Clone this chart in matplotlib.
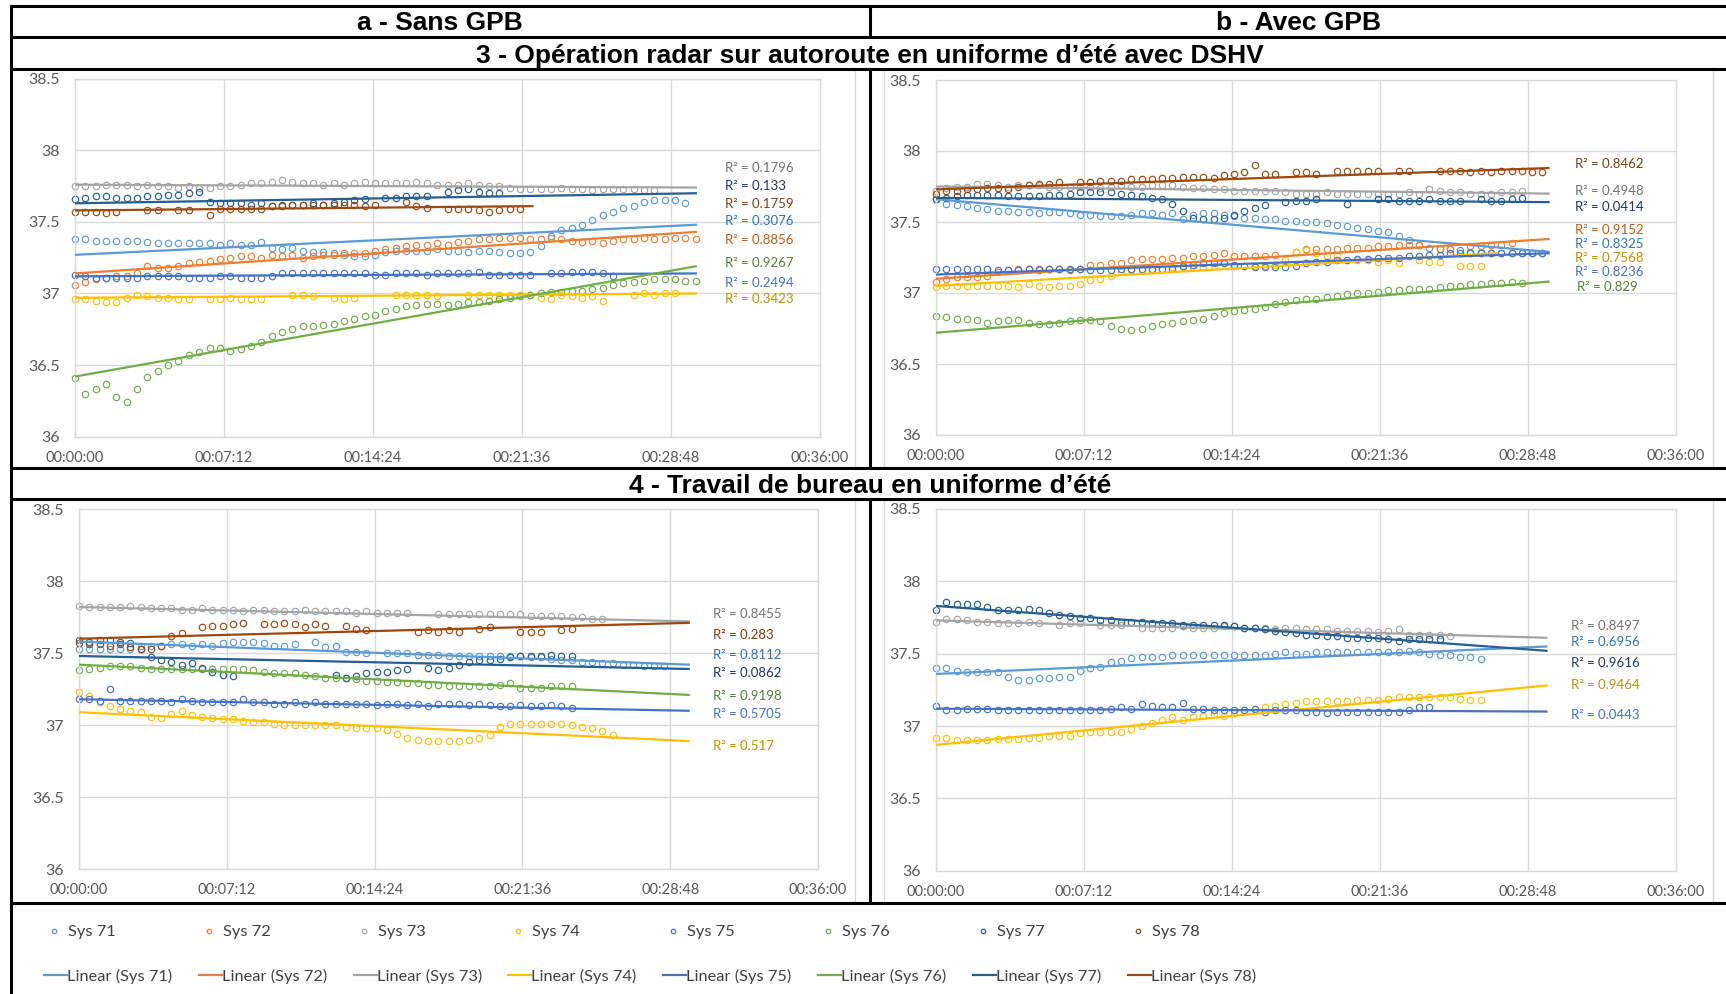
import numpy as np
import matplotlib
matplotlib.use("Agg")
import matplotlib.pyplot as plt
from matplotlib.lines import Line2D

plt.rcParams['font.family'] = ['Lato', 'DejaVu Sans']

N = None
STEP_MIN = 0.5  # sampling step of the recorded values, minutes

# ---------------- data (°C, one value every 0.5 min) ----------------
# Panel 3a - Sans GPB
a71 = [37.38,37.38,37.37,37.37,37.37,37.37,37.37,37.36,37.35,37.35,37.35,37.35,37.35,37.35,37.34,37.35,37.34,37.34,37.36,37.32,
       37.31,37.32,37.30,37.29,37.29,37.28,37.27,37.26,37.26,37.27,37.29,37.30,37.30,37.30,37.30,37.31,37.30,37.30,37.29,37.30,
       37.30,37.29,37.28,37.28,37.29,37.33,37.40,37.44,37.46,37.48,37.51,37.55,37.57,37.60,37.61,37.64,37.65,37.65,37.65,37.63]
a72 = [37.06,37.08,37.10,37.11,37.12,37.12,37.14,37.19,37.18,37.18,37.19,37.21,37.22,37.23,37.24,37.25,37.26,37.26,37.25,37.27,
       37.26,37.27,37.25,37.26,37.27,37.27,37.28,37.28,37.28,37.30,37.31,37.32,37.33,37.34,37.34,37.35,37.34,37.36,37.37,37.38,
       37.38,37.39,37.39,37.39,37.38,37.38,37.39,37.38,37.37,37.36,37.37,37.35,37.37,37.38,37.38,37.39,37.38,37.38,37.39,37.39,37.38]
a73 = [37.75,37.75,37.75,37.76,37.76,37.76,37.75,37.76,37.75,37.75,37.74,37.75,37.74,37.74,37.75,37.75,37.76,37.77,37.77,37.78,
       37.79,37.78,37.77,37.77,37.76,37.77,37.76,37.77,37.78,37.77,37.77,37.77,37.77,37.78,37.77,37.76,37.76,37.76,37.77,37.76,
       37.75,37.75,37.74,37.73,37.73,37.73,37.73,37.74,37.73,37.73,37.72,37.73,37.73,37.73,37.73,37.72,37.72]
a74 = [36.96,36.96,36.95,36.94,36.94,36.97,36.99,36.98,36.97,36.97,36.96,36.96,N,36.96,36.96,36.97,36.96,36.96,36.96,N,
       N,36.99,36.99,36.98,N,36.97,36.96,36.97,N,N,N,36.99,36.99,36.99,36.99,36.98,N,N,36.99,36.99,
       36.99,36.99,36.99,36.99,36.99,36.97,36.96,36.99,36.98,36.97,36.98,36.95,N,N,36.99,37.00,36.99,37.00,37.00]
a75 = [37.13,37.12,37.11,37.11,37.11,37.11,37.11,37.12,37.12,37.12,37.12,37.11,37.11,37.11,37.12,37.12,37.11,37.11,37.11,37.12,
       37.14,37.14,37.14,37.14,37.14,37.14,37.14,37.14,37.14,37.13,37.13,37.14,37.14,37.14,37.13,37.14,37.14,37.14,37.14,37.15,
       37.13,37.13,37.13,37.13,37.13,N,37.14,37.14,37.15,37.15,37.15,37.14,37.12]
a76 = [36.41,36.30,36.33,36.37,36.28,36.24,36.33,36.42,36.46,36.50,36.53,36.57,36.59,36.62,36.62,36.60,36.61,36.63,36.66,36.70,
       36.73,36.75,36.77,36.77,36.78,36.79,36.81,36.82,36.84,36.85,36.88,36.89,36.91,36.92,36.93,36.93,36.92,36.93,36.94,36.94,
       36.95,36.96,36.97,36.98,36.99,37.00,37.01,37.01,37.02,37.02,37.03,37.04,37.06,37.07,37.08,37.09,37.10,37.10,37.10,37.09,37.09]
a77 = [37.66,37.67,37.68,37.68,37.67,37.67,37.67,37.68,37.68,37.69,37.69,37.70,37.71,37.64,37.63,37.63,37.63,37.62,37.63,37.61,
       37.62,37.62,37.62,37.63,37.62,37.63,37.64,37.65,37.66,N,37.67,37.67,37.68,37.68,37.68,N,37.71,37.72,37.73,37.71,37.70,37.70]
a78 = [37.57,37.57,37.57,37.56,37.57,N,N,37.58,37.58,N,37.58,37.58,N,37.55,37.59,37.59,37.59,37.59,37.59,37.61,
       37.61,37.62,37.62,37.62,37.62,37.62,37.62,37.62,37.61,37.62,N,N,37.64,37.61,37.60,N,37.59,37.59,37.59,37.58,
       37.57,37.58,37.59,37.59]

# Panel 3b - Avec GPB
b71 = [37.66,37.63,37.62,37.61,37.60,37.59,37.58,37.58,37.57,37.57,37.56,37.57,37.57,37.56,37.55,37.55,37.54,37.54,37.54,37.55,
       37.56,37.56,37.55,37.56,37.52,37.55,37.56,37.56,37.55,37.54,37.53,37.53,37.52,37.52,37.51,37.51,37.50,37.50,37.49,37.48,
       37.47,37.46,37.45,37.44,37.43,37.40,37.37,37.34,37.32,37.31,37.31,37.30,37.29,37.29,37.28,37.28,37.28,37.28,37.28,37.28]
b72 = [37.08,37.10,37.11,37.11,37.11,37.12,37.15,37.16,37.17,37.17,37.16,37.17,37.17,37.16,37.17,37.20,37.20,37.21,37.21,37.23,
       37.24,37.24,37.24,37.25,37.25,37.26,37.26,37.27,37.28,37.26,37.26,37.26,37.26,37.27,N,37.29,37.31,37.31,37.31,37.31,
       37.32,37.32,37.32,37.33,37.33,37.34,37.34,37.34,N,37.31,37.31,N,37.33,37.33,37.34,37.34,37.35]
b73 = [37.72,37.74,37.75,37.75,37.77,37.77,37.76,37.75,37.76,37.76,37.76,37.75,37.75,37.75,37.75,37.75,37.74,37.75,37.76,37.75,
       37.75,37.76,37.76,37.76,37.75,37.74,37.74,37.73,37.73,37.72,37.72,37.72,37.72,37.72,37.71,37.70,37.70,37.70,37.71,37.70,
       37.70,37.70,37.70,37.70,37.70,37.70,37.71,37.70,37.73,37.72,37.71,37.71,37.70,37.70,37.70,37.71,37.71,37.72]
b74 = [37.04,37.05,37.05,37.05,37.05,37.05,37.05,37.05,37.04,37.06,37.05,37.04,37.05,37.05,37.06,37.09,37.10,37.12,37.15,37.16,
       37.16,37.16,37.17,37.18,37.18,37.18,37.18,37.19,37.21,37.19,37.19,37.19,37.19,37.20,37.23,37.29,37.30,37.28,37.26,37.27,
       N,37.23,37.23,37.22,37.23,37.21,N,37.23,37.22,37.22,N,37.19,37.19,37.19]
b75 = [37.17,37.17,37.17,37.17,37.17,37.17,37.16,37.16,37.16,37.17,37.17,37.17,37.17,37.17,37.17,37.16,37.16,37.16,37.17,37.17,
       37.17,37.17,37.17,37.17,37.19,37.20,37.21,37.21,37.21,37.20,37.19,37.18,37.18,37.18,37.18,37.19,37.21,37.22,37.22,37.23,
       37.23,37.24,37.24,37.25,37.25,37.25,37.26,37.26,37.27,37.27,37.28,37.28,37.28,37.28,37.28,37.28,37.28,37.28,37.28,37.28]
b76 = [36.84,36.83,36.82,36.82,36.81,36.79,36.80,36.81,36.81,36.79,36.78,36.78,36.79,36.80,36.81,36.81,36.80,36.77,36.75,36.74,
       36.75,36.77,36.78,36.79,36.80,36.81,36.82,36.84,36.86,36.87,36.88,36.89,36.90,36.92,36.94,36.95,36.96,36.96,36.97,36.98,
       36.99,37.00,37.00,37.01,37.02,37.02,37.03,37.03,37.03,37.04,37.05,37.05,37.06,37.06,37.07,37.07,37.08,37.07]
b77 = [37.66,37.67,37.68,37.69,37.69,37.69,37.69,37.68,37.68,37.68,37.68,37.69,37.69,37.70,37.71,37.71,37.71,37.71,37.70,37.69,
       37.68,37.67,37.66,37.63,37.58,37.53,37.52,37.52,37.53,37.55,37.58,37.60,37.62,N,37.64,37.65,37.65,37.66,N,N,
       37.63,N,N,37.66,37.66,37.65,37.65,37.65,37.66,37.65,37.65,37.65,N,37.66,37.65,37.65,37.66,37.67]
b78 = [37.70,37.72,37.72,37.73,37.73,37.74,37.74,37.73,37.75,37.76,37.77,37.77,37.78,N,37.78,37.78,37.79,37.79,37.79,37.80,
       37.80,37.80,37.81,37.81,37.82,37.82,37.82,37.81,37.83,37.84,37.85,37.90,37.84,37.84,N,37.85,37.85,37.84,N,37.86,
       37.86,37.86,37.86,37.86,N,37.86,37.86,N,N,37.86,37.86,37.86,37.85,37.86,37.85,37.86,37.86,37.86,37.85,37.85]

# Panel 4a - Sans GPB
c71 = [37.53,37.53,37.53,37.53,37.53,37.53,37.55,37.55,37.55,37.56,37.56,37.55,37.56,37.55,37.57,37.58,37.58,37.58,37.57,37.55,
       37.55,37.56,N,37.58,37.54,37.55,37.51,37.51,37.50,N,37.50,37.50,37.50,37.49,37.49,37.49,37.48,37.48,37.48,37.48,
       37.48,37.48,37.48,37.48,37.47,37.47,37.46,37.45,37.45,37.44,37.44,37.43,37.43,37.42,37.42,37.41,37.41,37.41]
c73 = [37.83,37.82,37.82,37.82,37.82,37.83,37.82,37.81,37.81,37.81,37.80,37.80,37.81,37.80,37.80,37.80,37.79,37.80,37.80,37.79,
       37.79,37.79,37.80,37.79,37.79,37.79,37.79,37.78,37.79,37.78,37.78,37.78,37.78,N,N,37.77,37.77,37.77,37.77,37.77,
       37.77,37.77,37.77,37.77,37.76,37.76,37.76,37.76,37.75,37.75,37.74,37.74]
c74 = [37.23,37.20,37.16,37.13,37.11,37.10,37.09,37.06,37.05,37.08,37.10,37.07,37.06,37.05,37.04,37.04,37.03,37.02,37.02,37.01,
       37.00,37.00,37.00,37.00,37.00,37.00,36.99,36.98,36.98,36.98,36.97,36.94,36.91,36.90,36.89,36.89,36.89,36.89,36.90,36.91,
       36.93,36.99,37.01,37.01,37.01,37.01,37.01,37.01,37.00,36.99,36.98,36.96,36.93]
c75 = [37.18,37.18,37.17,37.25,37.17,37.17,37.17,37.17,37.17,37.16,37.18,37.17,37.16,37.16,37.16,37.16,37.18,37.16,37.16,37.15,
       37.15,37.16,37.15,37.16,37.15,37.15,37.15,37.15,37.15,37.14,37.15,37.15,37.14,37.15,37.13,37.15,37.15,37.15,37.14,37.15,
       37.14,37.13,37.13,37.14,37.13,37.13,37.14,37.13,37.12]
c76 = [37.38,37.39,37.40,37.41,37.41,37.41,37.40,37.39,37.39,37.39,37.39,37.39,37.39,37.39,37.39,37.39,37.39,37.38,37.37,37.36,
       37.36,37.36,37.35,37.34,37.33,37.33,37.33,37.32,37.31,37.31,37.30,37.30,37.29,37.29,37.28,37.28,37.27,37.27,37.27,37.27,
       37.27,37.28,37.29,37.26,37.26,37.26,37.27,37.27,37.27]
c77 = [37.59,37.58,37.59,37.59,37.58,37.57,37.53,37.47,37.45,37.44,37.42,37.43,37.40,37.37,37.35,37.34,N,N,N,N,
       N,N,N,N,N,37.35,37.33,37.34,37.36,37.37,37.37,37.38,37.39,N,37.40,37.38,37.40,37.42,37.44,37.45,
       37.45,37.46,37.47,37.48,37.48,37.48,37.49,37.48,37.48]
c78 = [37.57,37.56,37.56,37.55,37.56,37.54,37.53,37.53,37.55,37.62,37.64,N,37.68,37.69,37.69,37.70,37.71,N,37.70,37.70,
       37.71,37.70,37.68,37.70,37.69,N,37.69,37.67,37.66,N,N,N,N,37.65,37.66,37.65,37.66,37.65,N,37.67,
       37.68,N,N,37.65,37.65,37.65,N,37.66,37.67]

# Panel 4b - Avec GPB
d71 = [37.40,37.40,37.38,37.37,37.37,37.37,37.37,37.34,37.32,37.32,37.33,37.33,37.34,37.34,37.38,37.40,37.41,37.44,37.45,37.47,
       37.48,37.48,37.48,37.49,37.49,37.49,37.49,37.49,37.49,37.49,37.49,37.49,37.49,37.50,37.51,37.50,37.50,37.51,37.51,37.51,
       37.51,37.51,37.51,37.51,37.51,37.51,37.52,37.51,37.50,37.49,37.49,37.48,37.48,37.46]
d73 = [37.72,37.74,37.74,37.73,37.72,37.72,37.71,37.71,37.71,37.72,37.71,N,37.70,37.71,37.71,N,37.70,37.70,37.70,N,
       37.68,37.68,37.68,37.68,37.69,37.68,37.68,37.68,37.69,37.69,37.68,37.68,37.68,37.67,37.68,37.68,37.67,37.67,37.67,37.66,
       37.66,37.66,37.66,37.65,37.66,37.67,37.63,37.63,37.63,37.63,37.62]
d74 = [36.92,36.92,36.90,36.90,36.90,36.90,36.91,36.91,36.91,36.92,36.92,36.93,36.93,36.93,36.95,36.96,36.96,36.96,36.96,36.98,
       37.00,37.02,37.04,37.06,37.04,37.06,37.07,37.08,37.07,37.09,37.11,37.12,37.13,37.14,37.15,37.16,37.17,37.17,37.17,37.17,
       37.17,37.18,37.18,37.18,37.19,37.20,37.20,37.20,37.20,37.20,37.20,37.19,37.18,37.18]
d75 = [37.14,37.11,37.11,37.12,37.12,37.12,37.11,37.11,37.11,37.11,37.11,37.11,37.11,37.11,37.11,37.11,37.11,37.12,37.13,37.12,
       37.15,37.14,37.13,37.13,37.16,37.12,37.12,37.11,37.11,37.11,37.11,37.12,37.10,37.11,37.11,37.11,37.10,37.10,37.09,37.10,
       37.10,37.10,37.10,37.10,37.10,37.10,37.11,37.13,37.13]
d77 = [37.80,37.86,37.84,37.84,37.84,37.82,37.80,37.80,37.80,37.81,37.80,37.78,37.77,37.76,37.75,37.75,37.73,37.73,37.72,37.72,
       37.72,37.71,37.71,37.71,37.70,37.70,37.70,37.70,37.70,37.69,37.68,37.68,37.67,37.66,37.65,37.64,37.63,37.63,37.62,37.62,
       37.61,37.61,37.61,37.61,37.60,37.59,37.60,37.60,37.60,37.60]

# Linear trend lines: value at 0 min, value at end, end time (min)
a_trend_start = [37.27, 37.14, 37.76, 36.97, 37.12, 36.42, 37.63, 37.58]
a_trend_end   = [37.48, 37.43, 37.74, 37.00, 37.14, 37.19, 37.70, 37.61]
a_trend_until = [30.0, 30.0, 30.0, 30.0, 30.0, 30.0, 30.0, 22.1]
b_trend_start = [37.66, 37.10, 37.75, 37.05, 37.13, 36.72, 37.67, 37.73]
b_trend_end   = [37.29, 37.38, 37.70, 37.28, 37.28, 37.08, 37.64, 37.88]
b_trend_until = [29.8, 29.8, 29.8, 27.3, 29.8, 29.8, 29.8, 29.8]
c_trend_start = [37.58, 37.82, 37.09, 37.18, 37.42, 37.48, 37.60]
c_trend_end   = [37.42, 37.72, 36.89, 37.10, 37.21, 37.39, 37.71]
c_trend_until = [29.7, 29.7, 29.7, 29.7, 29.7, 29.7, 29.7]
d_trend_start = [37.36, 37.73, 36.87, 37.12, 37.83]
d_trend_end   = [37.55, 37.61, 37.28, 37.10, 37.52]
d_trend_until = [29.7, 29.7, 29.7, 29.7, 29.7]

# R² values shown on each panel (series, text)
a_r2 = [(73, "0.1796"), (77, "0.133"), (78, "0.1759"), (71, "0.3076"),
        (72, "0.8856"), (76, "0.9267"), (75, "0.2494"), (74, "0.3423")]
b_r2 = [(78, "0.8462"), (73, "0.4948"), (77, "0.0414"), (72, "0.9152"),
        (71, "0.8325"), (74, "0.7568"), (75, "0.8236"), (76, "0.829")]
c_r2 = [(73, "0.8455"), (78, "0.283"), (71, "0.8112"), (77, "0.0862"),
        (76, "0.9198"), (75, "0.5705"), (74, "0.517")]
d_r2 = [(73, "0.8497"), (71, "0.6956"), (77, "0.9616"), (74, "0.9464"), (75, "0.0443")]

series_ids = [71, 72, 73, 74, 75, 76, 77, 78]
x_tick_minutes = [0, 7.2, 14.4, 21.6, 28.8, 36.0]
x_tick_labels = ["00:00:00", "00:07:12", "00:14:24", "00:21:36", "00:28:48", "00:36:00"]
y_ticks = [36, 36.5, 37, 37.5, 38, 38.5]
y_tick_labels = ["36", "36.5", "37", "37.5", "38", "38.5"]

header_a = "a - Sans GPB"
header_b = "b - Avec GPB"
row3_title = "3 - Opération radar sur autoroute en uniforme d\u2019été avec DSHV"
row4_title = "4 - Travail de bureau en uniforme d\u2019été"

# ---------------- styles ----------------
COL = {71: "#5B9BD5", 72: "#ED7D31", 73: "#A5A5A5", 74: "#FFC000",
       75: "#4472C4", 76: "#70AD47", 77: "#255E91", 78: "#9E480E"}
LBL = {71: "#2E75B6", 72: "#C55A11", 73: "#767171", 74: "#BF9000",
       75: "#4472C4", 76: "#538135", 77: "#203864", 78: "#843C0C"}

# label positions (min, °C) for the R² texts of each panel
a_r2_pos = [(31.4, y) for y in [37.874, 37.753, 37.625, 37.506, 37.374, 37.211, 37.071, 36.96]]
b_r2_pos = [(31.1, y) for y in [37.906, 37.72, 37.608, 37.444, 37.345, 37.249, 37.15]] + [(31.2, 37.044)]
c_r2_pos = [(30.9, y) for y in [37.769, 37.626, 37.485, 37.36, 37.202, 37.075, 36.855]]
d_r2_pos = [(30.9, y) for y in [37.691, 37.579, 37.434, 37.282, 37.074]]

W, H = 1726, 994
fig = plt.figure(figsize=(W / 100, H / 100), dpi=100)
fig.patch.set_facecolor("white")


def fbox(x0, x1, ytop, ybot):
    return [x0 / W, 1 - ybot / H, (x1 - x0) / W, (ybot - ytop) / H]


def draw_panel(rect, ids, data, tstart, tend, tuntil, r2, r2pos):
    ax = fig.add_axes(rect)
    ax.set_xlim(0, 36)
    ax.set_ylim(36, 38.5)
    ax.set_xticks(x_tick_minutes)
    ax.set_xticklabels(x_tick_labels)
    ax.set_yticks(y_ticks)
    ax.set_yticklabels(y_tick_labels)
    ax.grid(True, color="#D9D9D9", lw=1.0)
    ax.set_axisbelow(True)
    for s in ax.spines.values():
        s.set_color("#D9D9D9")
        s.set_linewidth(1.0)
    ax.tick_params(length=0, colors="#595959")
    ax.tick_params(axis="y", pad=11, labelsize=11.5)
    ax.tick_params(axis="x", pad=10, labelsize=10.5)
    for sid, vals in zip(ids, data):
        v = np.array(vals, dtype=float)
        t = np.arange(len(v)) * STEP_MIN
        ax.plot(t, v, ls="none", marker="o", mfc="none", mec=COL[sid],
                ms=4.6, mew=0.85, zorder=2, clip_on=False)
    for sid, y0, y1, tu in zip(ids, tstart, tend, tuntil):
        ax.plot([0, tu], [y0, y1], color=COL[sid], lw=1.6, zorder=3)
    for (sid, txt), (px, py) in zip(r2, r2pos):
        ax.text(px, py, "R\u00b2 = " + txt, color=LBL[sid], fontsize=9.5,
                ha="left", va="center", clip_on=False)
    return ax


draw_panel(fbox(75, 820, 78.7, 436.7), series_ids,
           [a71, a72, a73, a74, a75, a76, a77, a78],
           a_trend_start, a_trend_end, a_trend_until, a_r2, a_r2_pos)
draw_panel(fbox(936, 1676, 80, 435), series_ids,
           [b71, b72, b73, b74, b75, b76, b77, b78],
           b_trend_start, b_trend_end, b_trend_until, b_r2, b_r2_pos)
draw_panel(fbox(79, 818, 509, 869.3), [71, 73, 74, 75, 76, 77, 78],
           [c71, c73, c74, c75, c76, c77, c78],
           c_trend_start, c_trend_end, c_trend_until, c_r2, c_r2_pos)
draw_panel(fbox(936, 1676, 509, 870.7), [71, 73, 74, 75, 77],
           [d71, d73, d74, d75, d77],
           d_trend_start, d_trend_end, d_trend_until, d_r2, d_r2_pos)


# ---------------- table frame ----------------
def fline(xs, ys, color="black", lw=2.2):
    fig.add_artist(Line2D([x / W for x in xs], [1 - y / H for y in ys],
                          color=color, lw=lw, transform=fig.transFigure,
                          solid_capstyle="butt"))


# light chart-area borders
for xx in [855, 884, 1713]:
    fline([xx, xx], [70, 467], color="#D9D9D9", lw=1)
    fline([xx, xx], [500, 902], color="#D9D9D9", lw=1)

for yy in [6, 37, 69, 468, 499, 903]:
    fline([10, W], [yy, yy])
fline([11, 11], [5, H])
fline([870, 870], [5, 37])
fline([870, 870], [69, 468])
fline([870, 870], [499, 904])

hdr = dict(fontsize=19, fontweight="bold", family=["Liberation Sans", "DejaVu Sans"],
           ha="center", va="center", color="black")
fig.text(440 / W, 1 - 23.5 / H, header_a, **hdr)
fig.text(1298 / W, 1 - 23.5 / H, header_b, **hdr)
fig.text(870 / W, 1 - 55.5 / H, row3_title, **hdr)
fig.text(870 / W, 1 - 486 / H, row4_title, **hdr)

# ---------------- legend ----------------
LEG_DX = 154.8
for i, sid in enumerate(series_ids):
    x0 = i * LEG_DX
    fig.add_artist(Line2D([(x0 + 54) / W], [1 - 931 / H], ls="none", marker="o",
                          mfc="none", mec=COL[sid], ms=3.2, mew=0.9,
                          transform=fig.transFigure))
    fig.text((x0 + 68) / W, 1 - 932 / H, f"Sys {sid}", fontsize=11.8,
             color="#404040", ha="left", va="center")
    fig.add_artist(Line2D([(x0 + 44) / W, (x0 + 67) / W], [1 - 975 / H] * 2,
                          color=COL[sid], lw=1.6, transform=fig.transFigure))
    fig.text((x0 + 67) / W, 1 - 976 / H, f"Linear (Sys {sid})", fontsize=11.8,
             color="#404040", ha="left", va="center")

fig.savefig("out.png", dpi=100, facecolor="white")
